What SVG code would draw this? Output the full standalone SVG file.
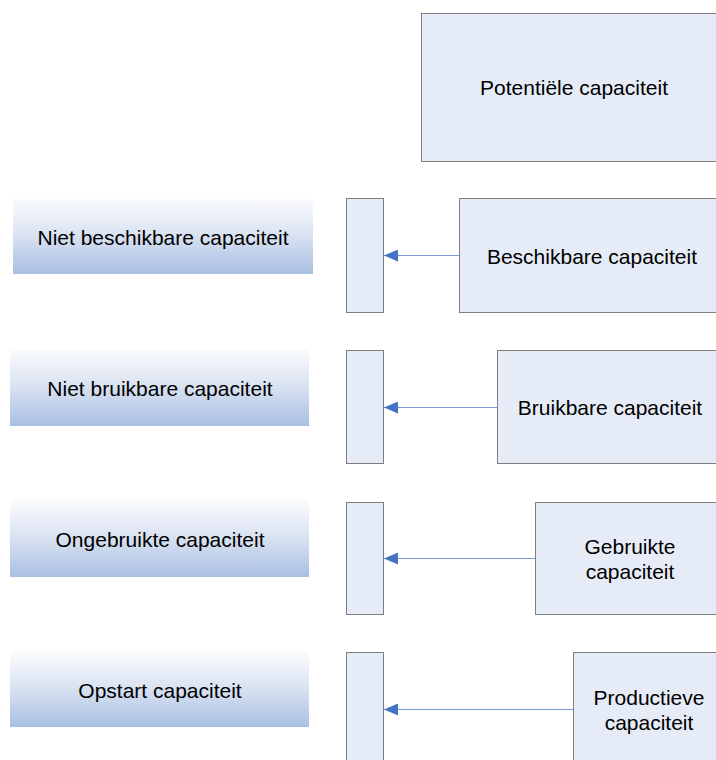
<svg xmlns="http://www.w3.org/2000/svg" width="716" height="760" viewBox="0 0 716 760">
<defs>
<linearGradient id="g" x1="0" y1="0" x2="0" y2="1">
<stop offset="0" stop-color="#FAFBFD"/>
<stop offset="0.45" stop-color="#DCE4F2"/>
<stop offset="1" stop-color="#A9BFE3"/>
</linearGradient>
<marker id="ah" markerWidth="14" markerHeight="12" refX="14" refY="6" orient="auto" markerUnits="userSpaceOnUse">
<path d="M0,0 L14,6 L0,12 Z" fill="#4472C4"/>
</marker>
<style>
.box{fill:#E6ECF7;stroke:#7F7F7F;stroke-width:1}
.grad{fill:url(#g);stroke:none}
.t{font-family:"Liberation Sans",Arial,sans-serif;font-size:21px;fill:#000;text-anchor:middle;dominant-baseline:central}
.c{stroke:#7A9BD2;stroke-width:1;fill:none}
</style>
</defs>
<rect width="716" height="760" fill="#fff"/>
<g id="potentiele">
<rect class="box" x="421.5" y="13.5" width="304" height="148"/>
<text class="t" x="574" y="87">Potentiële capaciteit</text>
</g>
<g id="niet-beschikbaar">
<rect class="grad" x="13" y="199" width="300" height="75"/>
<text class="t" x="163" y="237">Niet beschikbare capaciteit</text>
</g>
<g id="bar1"><rect class="box" x="346.5" y="198.5" width="37" height="114"/></g>
<g id="beschikbaar">
<rect class="box" x="459.5" y="198.5" width="266" height="114"/>
<text class="t" x="592" y="256">Beschikbare capaciteit</text>
</g>
<g id="niet-bruikbaar">
<rect class="grad" x="10" y="349" width="299" height="77"/>
<text class="t" x="160" y="388">Niet bruikbare capaciteit</text>
</g>
<g id="bar2"><rect class="box" x="346.5" y="350.5" width="37" height="113"/></g>
<g id="bruikbaar">
<rect class="box" x="497.5" y="350.5" width="228" height="113"/>
<text class="t" x="610" y="407">Bruikbare capaciteit</text>
</g>
<g id="ongebruikt">
<rect class="grad" x="10" y="500" width="299" height="77"/>
<text class="t" x="160" y="539">Ongebruikte capaciteit</text>
</g>
<g id="bar3"><rect class="box" x="346.5" y="502.5" width="37" height="112"/></g>
<g id="gebruikt">
<rect class="box" x="535.5" y="502.5" width="190" height="112"/>
<text class="t" x="630" y="546">Gebruikte</text>
<text class="t" x="630" y="571">capaciteit</text>
</g>
<g id="opstart">
<rect class="grad" x="10" y="652" width="299" height="75"/>
<text class="t" x="160" y="690">Opstart capaciteit</text>
</g>
<g id="bar4"><rect class="box" x="346.5" y="652.5" width="37" height="120"/></g>
<g id="productief">
<rect class="box" x="573.5" y="652.5" width="152" height="120"/>
<text class="t" x="649" y="697">Productieve</text>
<text class="t" x="649" y="722">capaciteit</text>
</g>
<g id="connectors">
<line class="c" x1="459" y1="255.5" x2="384" y2="255.5" marker-end="url(#ah)"/>
<line class="c" x1="497" y1="407.5" x2="384" y2="407.5" marker-end="url(#ah)"/>
<line class="c" x1="535" y1="558.5" x2="384" y2="558.5" marker-end="url(#ah)"/>
<line class="c" x1="573" y1="709.5" x2="384" y2="709.5" marker-end="url(#ah)"/>
</g>
</svg>
